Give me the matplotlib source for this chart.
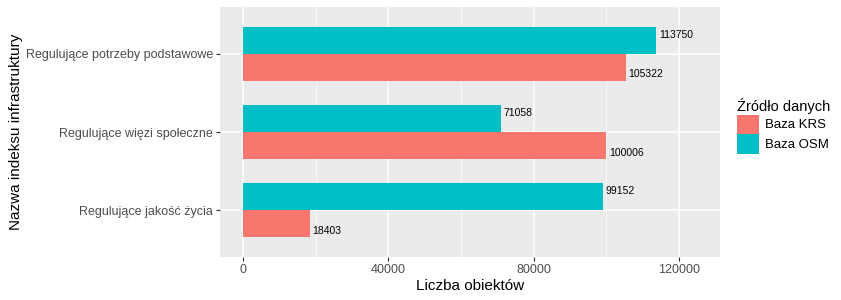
import numpy as np
import matplotlib.pyplot as plt
from matplotlib.patches import Patch

plt.rcParams['font.family'] = ['Liberation Sans', 'DejaVu Sans']

kategorie = ['Regulujące jakość życia', 'Regulujące więzi społeczne', 'Regulujące potrzeby podstawowe']
baza_krs = [18403, 100006, 105322]
baza_osm = [99152, 71058, 113750]
kolory = {'Baza KRS': '#F8766D', 'Baza OSM': '#00BFC4'}

fig = plt.figure(figsize=(8.41, 3.0), dpi=100)
ax = fig.add_axes([220 / 841, 43 / 300, 500 / 841, 250 / 300])
ax.set_facecolor('#EBEBEB')

y = np.arange(len(kategorie))
h = 0.35
ax.barh(y - h / 2, baza_krs, height=h, color=kolory['Baza KRS'], zorder=3)
ax.barh(y + h / 2, baza_osm, height=h, color=kolory['Baza OSM'], zorder=3)

for i in range(len(kategorie)):
    ax.annotate(str(baza_krs[i]), (baza_krs[i], y[i] - h / 2), xytext=(2, -5),
                textcoords='offset points', va='center', ha='left', fontsize=7.5, zorder=4)
    ax.annotate(str(baza_osm[i]), (baza_osm[i], y[i] + h / 2), xytext=(2, 4),
                textcoords='offset points', va='center', ha='left', fontsize=7.5, zorder=4)

ax.set_xlim(-6330, 131300)
ax.set_ylim(-0.6, 2.6)
ax.set_yticks(y)
ax.set_yticklabels(kategorie)
ax.set_xticks([0, 40000, 80000, 120000])
ax.set_xticks([20000, 60000, 100000], minor=True)
ax.grid(True, which='major', color='white', linewidth=1.1, zorder=1)
ax.grid(True, which='minor', axis='x', color='white', linewidth=0.5, zorder=1)
ax.tick_params(axis='both', which='major', colors='#333333', labelcolor='#4D4D4D',
               labelsize=9, length=3, width=0.8, pad=2)
ax.tick_params(axis='both', which='minor', length=0)
for s in ax.spines.values():
    s.set_visible(False)

ax.set_xlabel('Liczba obiektów', fontsize=11, labelpad=2)
ax.set_ylabel('Nazwa indeksu infrastruktury', fontsize=11, labelpad=2)

uchwyty = [Patch(facecolor=kolory[k], label=k) for k in kolory]
leg = fig.legend(handles=uchwyty, title='Źródło danych', loc='upper left',
                 bbox_to_anchor=(737 / 841, 202 / 300), frameon=False, fontsize=9.5,
                 title_fontsize=10.5, handlelength=1.7, handleheight=1.85,
                 handletextpad=0.4, labelspacing=0.05, borderaxespad=0,
                 borderpad=0)
leg._legend_box.align = 'left'

fig.savefig('out.png', dpi=100)
